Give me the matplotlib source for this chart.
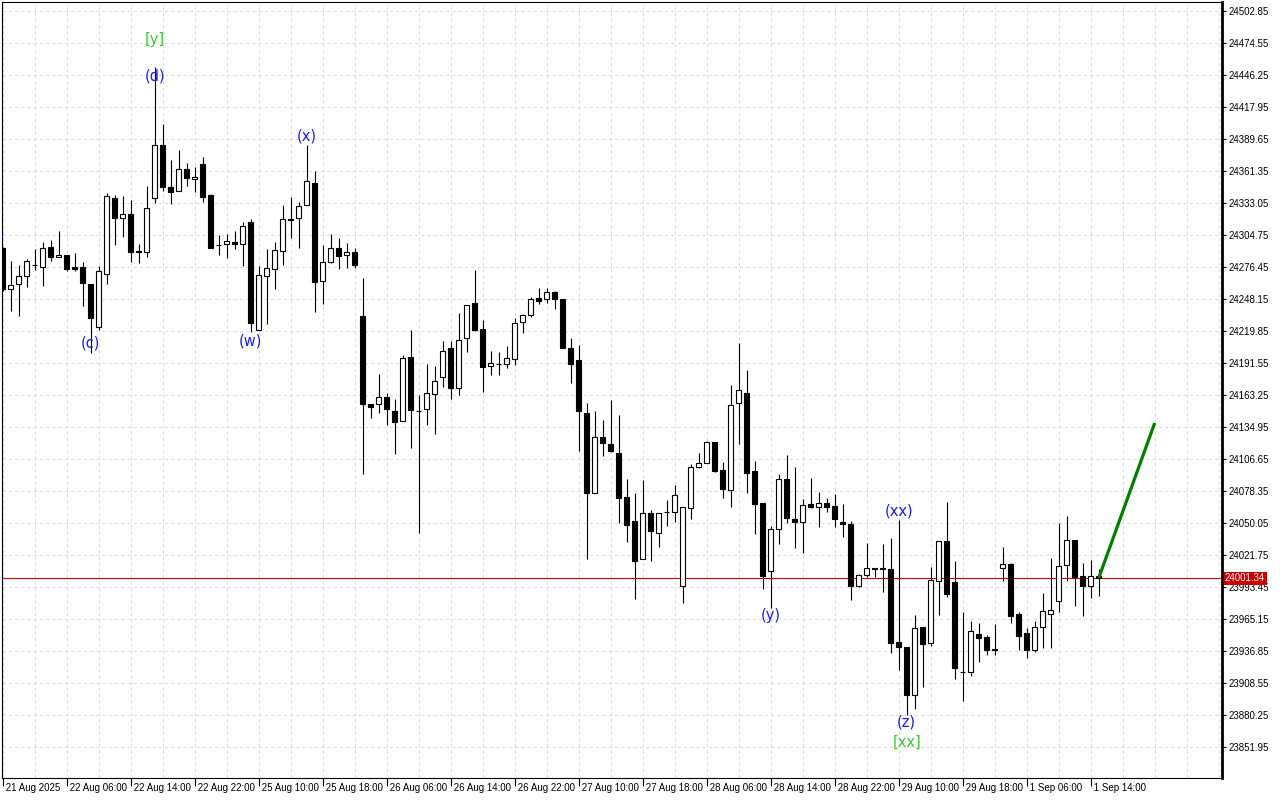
import numpy as np
import matplotlib
matplotlib.use("Agg")
import matplotlib.pyplot as plt
import matplotlib.transforms as mtransforms

# === hourly OHLC bars, 21 Aug - 1 Sep 2025 ===
opens = [24293.0, 24256.7, 24261.2, 24268.2, 24278.5, 24276.2, 24293.9, 24285.0, 24286.8, 24276.2,
         24276.2, 24261.4, 24223.7, 24270.0, 24337.2, 24319.5, 24323.1, 24290.9, 24289.5, 24337.2,
         24384.1, 24346.9, 24343.7, 24362.9, 24354.0, 24367.5, 24340.1, 24296.2, 24296.5, 24298.6,
         24296.5, 24316.0, 24220.5, 24268.2, 24274.4, 24290.3, 24318.6, 24319.5, 24331.0, 24350.5,
         24263.8, 24280.6, 24293.0, 24286.8, 24289.5, 24232.9, 24155.0, 24155.6, 24161.2, 24148.8,
         24140.5, 24196.6, 24149.4, 24150.6, 24163.9, 24178.9, 24204.6, 24169.2, 24213.4, 24244.4,
         24221.4, 24188.6, 24190.9, 24190.4, 24194.8, 24227.6, 24233.7, 24248.8, 24247.9, 24254.1,
         24247.9, 24205.1, 24193.9, 24147.1, 24076.3, 24125.8, 24119.7, 24111.7, 24072.8, 24051.6,
         24018.0, 24058.6, 24040.9, 24060.0, 24059.5, 23994.1, 24063.0, 24099.3, 24102.9, 24121.4,
         24096.7, 24079.0, 24155.9, 24164.8, 24095.8, 24067.5, 24007.3, 24044.5, 24088.7, 24053.3,
         24050.7, 24066.6, 24063.9, 24067.5, 24064.8, 24050.9, 24048.9, 23994.1, 24003.8, 24010.0,
         24010.0, 24009.1, 23944.6, 23940.1, 23898.2, 23957.8, 23943.7, 23998.5, 24033.9, 23997.6,
         23918.3, 23918.0, 23951.6, 23949.0, 23938.4, 24010.0, 24013.8, 23969.3, 23952.5, 23938.0,
         23957.8, 23969.3, 23980.8, 24012.6, 24034.8, 24002.9, 23994.1, 24002.9]
highs = [24294.0, 24281.8, 24278.2, 24283.5, 24292.4, 24298.6, 24300.3, 24308.3, 24286.8, 24288.8,
         24280.9, 24261.4, 24277.6, 24341.6, 24340.1, 24339.2, 24335.7, 24296.8, 24348.1, 24453.6,
         24402.9, 24371.1, 24379.9, 24368.2, 24364.6, 24373.7, 24341.0, 24304.5, 24305.4, 24308.0,
         24316.3, 24318.6, 24277.6, 24292.6, 24298.6, 24331.3, 24338.4, 24334.2, 24384.4, 24361.1,
         24295.6, 24305.4, 24301.8, 24297.4, 24293.0, 24266.5, 24155.0, 24181.8, 24164.8, 24159.5,
         24198.4, 24220.5, 24163.3, 24190.9, 24188.6, 24211.3, 24211.0, 24235.8, 24242.6, 24273.8,
         24229.6, 24202.2, 24201.0, 24206.3, 24231.1, 24235.2, 24250.2, 24257.6, 24257.6, 24255.5,
         24247.9, 24213.4, 24207.7, 24155.9, 24148.8, 24141.1, 24158.8, 24145.3, 24088.7, 24076.3,
         24087.8, 24061.6, 24059.2, 24070.1, 24083.7, 24063.9, 24102.0, 24111.7, 24122.6, 24121.4,
         24103.7, 24172.1, 24209.0, 24185.1, 24104.6, 24067.5, 24047.4, 24093.4, 24110.2, 24099.3,
         24071.0, 24089.6, 24077.2, 24071.9, 24075.4, 24066.6, 24051.6, 24004.7, 24032.1, 24010.3,
         24031.2, 24036.5, 24052.4, 23940.1, 23969.0, 23957.8, 24010.9, 24033.9, 24068.6, 24016.2,
         23971.3, 23963.4, 23961.4, 23950.7, 23960.7, 24029.1, 24014.4, 23971.1, 23956.9, 23963.4,
         23988.2, 24018.8, 24049.8, 24056.0, 24034.8, 24014.4, 24017.1, 24009.1]
lows = [24255.0, 24237.8, 24233.4, 24259.0, 24273.8, 24259.9, 24281.5, 24285.0, 24272.7, 24272.7,
        24242.2, 24200.7, 24220.7, 24261.4, 24296.2, 24303.3, 24281.1, 24280.3, 24285.6, 24333.3,
        24343.9, 24332.2, 24343.7, 24348.4, 24343.1, 24334.2, 24293.5, 24287.3, 24284.7, 24292.1,
        24277.6, 24218.7, 24220.5, 24226.3, 24257.3, 24278.2, 24302.4, 24293.0, 24331.0, 24236.9,
        24243.5, 24279.7, 24274.4, 24275.3, 24275.3, 24093.1, 24142.7, 24147.1, 24136.5, 24110.8,
        24140.5, 24116.7, 24040.9, 24137.0, 24129.0, 24170.1, 24159.5, 24163.5, 24201.6, 24220.1,
        24166.2, 24180.7, 24180.7, 24186.9, 24189.5, 24217.8, 24232.0, 24243.5, 24244.4, 24239.0,
        24205.1, 24173.6, 24114.0, 24018.5, 24076.3, 24109.6, 24113.1, 24050.3, 24033.3, 23982.6,
        24018.0, 24016.7, 24029.1, 24047.7, 24051.2, 23979.6, 24053.9, 24098.4, 24102.9, 24095.4,
        24072.4, 24063.9, 24119.7, 24076.3, 24040.1, 23991.4, 23975.2, 24031.8, 24049.8, 24028.2,
        24023.8, 24063.0, 24046.8, 24059.5, 24046.8, 24037.9, 23982.2, 23993.2, 24002.0, 24002.0,
        23989.3, 23934.8, 23919.8, 23880.5, 23885.8, 23904.8, 23941.0, 23969.0, 23984.9, 23912.4,
        23892.9, 23915.0, 23927.4, 23933.6, 23933.6, 23999.0, 23961.9, 23938.0, 23930.9, 23936.2,
        23939.8, 23939.8, 23971.6, 23999.0, 23976.9, 23968.1, 23984.0, 23985.8]
closes = [24256.7, 24260.3, 24268.2, 24281.8, 24278.3, 24293.0, 24285.0, 24286.8, 24275.0, 24275.0,
          24262.6, 24231.6, 24272.7, 24339.0, 24319.5, 24323.1, 24290.0, 24290.0, 24328.4, 24384.1,
          24346.9, 24343.1, 24362.9, 24354.9, 24356.1, 24338.6, 24293.5, 24296.0, 24299.2, 24296.5,
          24312.5, 24226.7, 24269.1, 24275.3, 24291.2, 24318.6, 24318.0, 24330.1, 24352.2, 24263.5,
          24280.6, 24293.0, 24285.9, 24289.5, 24278.0, 24155.6, 24152.4, 24161.2, 24150.6, 24139.6,
          24195.7, 24149.7, 24148.8, 24164.8, 24175.4, 24202.2, 24169.2, 24211.6, 24242.6, 24220.7,
          24188.3, 24191.3, 24190.5, 24195.7, 24226.7, 24233.7, 24247.9, 24246.1, 24254.1, 24247.9,
          24205.1, 24190.4, 24148.7, 24076.9, 24125.8, 24120.5, 24114.0, 24072.4, 24048.6, 24016.7,
          24058.6, 24042.7, 24059.2, 24059.5, 24074.6, 24063.9, 24099.3, 24102.9, 24121.4, 24096.3,
          24079.9, 24154.1, 24167.4, 24094.5, 24066.6, 24003.5, 24044.5, 24088.7, 24054.7, 24050.7,
          24065.7, 24063.9, 24067.5, 24063.9, 24053.3, 24048.9, 23994.1, 24003.8, 24010.0, 24009.7,
          24009.7, 23943.7, 23940.1, 23898.2, 23956.9, 23943.3, 23999.4, 24033.9, 23987.5, 23922.1,
          23918.0, 23954.3, 23948.6, 23938.0, 23938.1, 24013.5, 23968.1, 23950.4, 23938.0, 23957.8,
          23972.0, 23972.9, 24011.8, 24034.8, 24002.6, 23994.1, 24002.9, 24001.34]

last_price = 24001.34

# wave marks
wave_text = ["(b)", "[y]", "(d)", "(c)", "(w)", "(x)", "(y)", "(xx)", "(z)", "[xx]"]
wave_bar = [-1.1, 19, 19, 11, 31, 38, 96, 112, 113, 113]
wave_price = [24303.0, 24477.2, 24445.4, 24209.2, 24210.9, 24392.3, 23967.8, 24060.7, 23874.1, 23856.4]

# projected move
proj_bar = [137, 144]
proj_price = [24001.34, 24138.5]

price_ticks = [24502.85, 24474.55, 24446.25, 24417.95, 24389.65, 24361.35, 24333.05, 24304.75,
               24276.45, 24248.15, 24219.85, 24191.55, 24163.25, 24134.95, 24106.65, 24078.35,
               24050.05, 24021.75, 23993.45, 23965.15, 23936.85, 23908.55, 23880.25, 23851.95]
time_labels = ["21 Aug 2025", "22 Aug 06:00", "22 Aug 14:00", "22 Aug 22:00", "25 Aug 10:00",
               "25 Aug 18:00", "26 Aug 06:00", "26 Aug 14:00", "26 Aug 22:00", "27 Aug 10:00",
               "27 Aug 18:00", "28 Aug 06:00", "28 Aug 14:00", "28 Aug 22:00", "29 Aug 10:00",
               "29 Aug 18:00", "1 Sep 06:00", "1 Sep 14:00"]

plt.rcParams['font.family'] = ['Liberation Sans', 'DejaVu Sans']

fig = plt.figure(figsize=(12.8, 8), dpi=100)
ax = fig.add_axes([2/1280, 22/800, 1220/1280, 776/800])

o = np.array(opens)
h = np.array(highs)
l = np.array(lows)
c = np.array(closes)
idx = np.arange(len(o))
bull = c > o

# grid
ax.set_xticks(np.arange(0, 8 * len(time_labels), 8))
ax.set_xticks(np.arange(0, 153, 4), minor=True)
ax.set_xticklabels([" " + t for t in time_labels], ha='left')
ax.set_yticks(price_ticks)
ax.set_yticklabels([f"{p:.2f}" for p in price_ticks])
ax.grid(which='both', axis='x', color='#dcdcdc', linestyle=(0, (3, 3)), lw=0.75)
ax.grid(which='major', axis='y', color='#dcdcdc', linestyle=(0, (3, 3)), lw=0.75)
ax.set_axisbelow(True)

# last price line
ax.axhline(last_price, color='#e00000', lw=0.8, zorder=1.5)

# candles
ax.vlines(idx, l, h, color='black', lw=0.8, zorder=2)
body_lo = np.minimum(o, c)
body_h = np.maximum(np.abs(c - o), 0.01)
ax.bar(idx, body_h, bottom=body_lo, width=0.56,
       color=np.where(bull, 'white', 'black'), edgecolor='black', linewidth=0.8, zorder=3)

# projection line
ax.plot(proj_bar, proj_price, color='#008000', lw=2.3, solid_capstyle='butt', zorder=4)

# wave labels
for t, b, p in zip(wave_text, wave_bar, wave_price):
    col = '#33cc33' if t.startswith('[') else '#1a1aff'
    ax.text(b, p, t, color=col, fontsize=10.5, family='DejaVu Sans',
            ha='center', va='center', zorder=5, clip_on=True)

ax.set_xlim(-0.09, 152.41)
ax.set_ylim(23824.5, 24510.8)

ax.yaxis.tick_right()
ax.tick_params(axis='y', which='major', direction='out', length=3, width=0.8, pad=1.5, labelsize=7)
ax.tick_params(axis='x', which='major', direction='out', length=5.5, width=0.8, pad=-1.8, labelsize=7)
ax.tick_params(axis='x', which='minor', length=0)

for s in ax.spines.values():
    s.set_color('black')
    s.set_linewidth(0.8)
ax.spines['right'].set_linewidth(2)

# price tag
tr = mtransforms.blended_transform_factory(ax.transAxes, ax.transData)
ax.text(1.0 + 3/1220, last_price, "24001.34", transform=tr, ha='left', va='center',
        color='white', fontsize=7, clip_on=False, zorder=10,
        bbox=dict(boxstyle='square,pad=0.15', fc='#cc0000', ec='none'))

fig.savefig("out.png", dpi=100, facecolor='white')
